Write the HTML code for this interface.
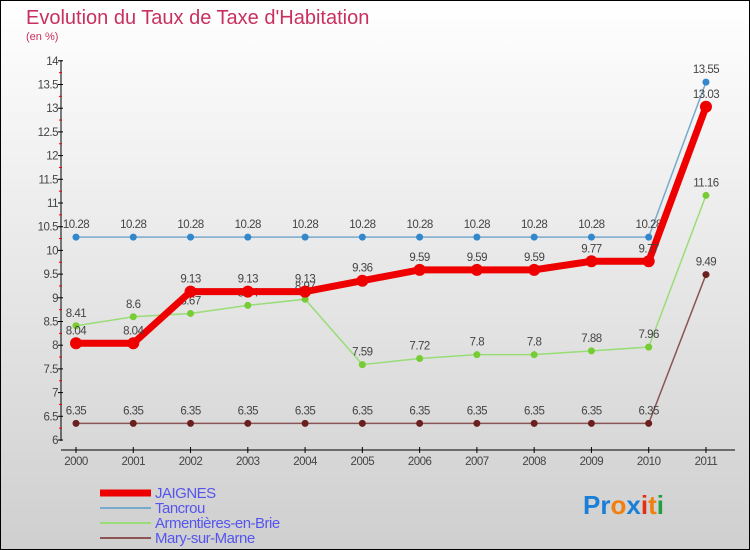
<!DOCTYPE html>
<html><head><meta charset="utf-8"><style>
body{margin:0}
#c{width:750px;height:550px;position:relative;overflow:hidden}
svg text{font-family:"Liberation Sans",sans-serif}
</style></head><body>
<div id="c">
<svg id="s" width="750" height="550" xmlns="http://www.w3.org/2000/svg">
<defs><linearGradient id="bg" x1="0" y1="0" x2="0" y2="1"><stop offset="0" stop-color="#ffffff"/><stop offset="1" stop-color="#cfcfcf"/></linearGradient></defs>
<rect x="0.5" y="0.5" width="749" height="549" fill="url(#bg)" stroke="#000"/>
<text x="26" y="24" font-size="20" fill="#c8305f">Evolution du Taux de Taxe d'Habitation</text>
<text x="26" y="40" font-size="11" fill="#c8305f">(en %)</text>
<g id="axes"></g><g id="series"></g><g id="legend"></g>
<text x="583" y="514" font-size="26" font-weight="bold"><tspan fill="#1a7fd6">Pr</tspan><tspan fill="#f07f10">o</tspan><tspan fill="#1a7fd6">x</tspan><tspan fill="#e03010">i</tspan><tspan fill="#f07f10">t</tspan><tspan fill="#20a040">i</tspan></text>
</svg></div>
<script>
const years=[2000,2001,2002,2003,2004,2005,2006,2007,2008,2009,2010,2011];
const yTicks=[6,6.5,7,7.5,8,8.5,9,9.5,10,10.5,11,11.5,12,12.5,13,13.5,14];
const jaignes=[8.04,8.04,9.13,9.13,9.13,9.36,9.59,9.59,9.59,9.77,9.77,13.03];
const tancrou=[10.28,10.28,10.28,10.28,10.28,10.28,10.28,10.28,10.28,10.28,10.28,13.55];
const armentieres=[8.41,8.6,8.67,8.84,8.97,7.59,7.72,7.8,7.8,7.88,7.96,11.16];
const mary=[6.35,6.35,6.35,6.35,6.35,6.35,6.35,6.35,6.35,6.35,6.35,9.49];
const NS="http://www.w3.org/2000/svg";
const X=i=>76+i*57.27, Y=v=>440-(v-6)*47.4;
function mk(t,a,p){const e=document.createElementNS(NS,t);for(const k in a)e.setAttribute(k,a[k]);p.appendChild(e);return e;}
const ax=document.getElementById('axes');
let e=mk('line',{x1:61,y1:60,x2:61,y2:441,stroke:'#000'},ax);


e=mk('line',{x1:61,y1:450,x2:735,y2:450,stroke:'#000'},ax);


yTicks.forEach(v=>{mk('line',{x1:58,y1:Y(v),x2:63,y2:Y(v),stroke:'#000'},ax);
 if(v<14) mk('line',{x1:59,y1:Y(v+0.25),x2:62,y2:Y(v+0.25),stroke:'#e00'},ax);
 const t=mk('text',{x:58,y:Y(v)+4,'font-size':11.5,'text-anchor':'end',fill:'#444','letter-spacing':'-0.5'},ax);t.textContent=v;
 
 });
years.forEach((y,i)=>{mk('line',{x1:X(i),y1:447,x2:X(i),y2:453,stroke:'#000'},ax);
 const t=mk('text',{x:X(i),y:465,'font-size':11.5,'text-anchor':'middle',fill:'#444','letter-spacing':'-0.5'},ax);t.textContent=y;
 
 });
const sg=document.getElementById('series');
function draw(vals,col,w,r,dot,name){const g=mk('g',{},sg);
 
 
 mk('polyline',{points:vals.map((v,i)=>X(i)+','+Y(v)).join(' '),fill:'none',stroke:col,'stroke-width':w},g);
 vals.forEach((v,i)=>{const c=mk('circle',{cx:X(i),cy:Y(v),r:r,fill:dot},g);
  
  
  const t=mk('text',{x:X(i),y:Y(v)-9,'font-size':11.5,'text-anchor':'middle',fill:'#444','letter-spacing':'-0.5'},g);t.textContent=v;
  
  });}
draw(mary,'#8b5555',1.5,3.5,'#6b1f1f','mary-sur-marne');
draw(armentieres,'#99dd77',1.5,3.5,'#77cc33','armentieres-en-brie');
draw(tancrou,'#77aacc',1.5,3.5,'#3388cc','tancrou');
draw(jaignes,'#ee0000',7,6,'#ee0000','jaignes');
const lg=document.getElementById('legend');
[['JAIGNES','#ee0000',7],['Tancrou','#77aacc',2],['Armentières-en-Brie','#99dd77',2],['Mary-sur-Marne','#8b5555',2]].forEach((d,i)=>{
 const y=493+i*15;const g=mk('g',{},lg);
 
 
 mk('line',{x1:100,y1:y,x2:151,y2:y,stroke:d[1],'stroke-width':d[2]},g);
 const t=mk('text',{x:155,y:y+5,'font-size':15,fill:'#5555ee','letter-spacing':'-0.5'},g);t.textContent=d[0];});
</script></body></html>
